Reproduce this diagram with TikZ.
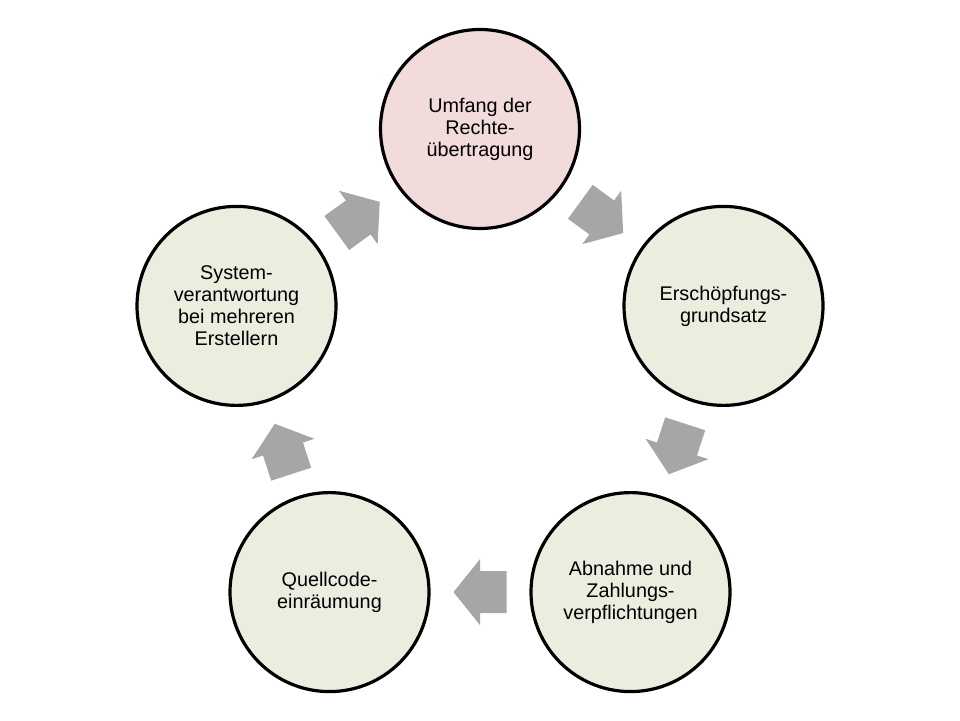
\documentclass[tikz,border=0pt]{standalone}
\usepackage{fontspec}
\setmainfont{Liberation Sans}
\definecolor{pinkfill}{HTML}{F2DCDB}
\definecolor{greenfill}{HTML}{EBEEDE}
\definecolor{arrowgray}{HTML}{A6A6A6}
\begin{document}
\begin{tikzpicture}[x=1pt,y=1pt,
  topic/.style={circle, draw=black, line width=3.2pt, minimum size=199pt,
    inner sep=0pt, align=center, fill=greenfill,
    font=\fontsize{19.8}{22}\selectfont},
  blockarrow/.style={fill=arrowgray, draw=none}]
\useasboundingbox (0,0) rectangle (960,720);
\fill[white] (0,0) rectangle (960,720);

\node[topic, fill=pinkfill] (t1) at (480,591) {Umfang der\\Rechte-\\übertragung};
\node[topic] (t2) at (723.5,414.1) {Erschöpfungs-\\grundsatz};
\node[topic] (t3) at (630.5,127.9) {Abnahme und\\Zahlungs-\\verpflichtungen};
\node[topic] (t4) at (329.5,127.9) {Quellcode-\\einräumung};
\node[topic] (t5) at (236.5,414.1) {System-\\verantwortung\\bei mehreren\\Erstellern};

\path (t1.center) -- (t2.center) coordinate[pos=0.5] (a12);
\path (t2.center) -- (t3.center) coordinate[pos=0.5] (a23);
\path (t3.center) -- (t4.center) coordinate[pos=0.5] (a34);
\path (t4.center) -- (t5.center) coordinate[pos=0.5] (a45);
\path (t5.center) -- (t1.center) coordinate[pos=0.5] (a51);

\foreach \c/\ang in {a12/-36, a23/-108, a34/180, a45/108, a51/36}{
  \begin{scope}[shift={(\c)}, rotate=\ang]
    \fill[blockarrow] (-26.5,-21) -- (0,-21) -- (0,-33) -- (26.5,0)
      -- (0,33) -- (0,21) -- (-26.5,21) -- cycle;
  \end{scope}
}
\end{tikzpicture}
\end{document}
